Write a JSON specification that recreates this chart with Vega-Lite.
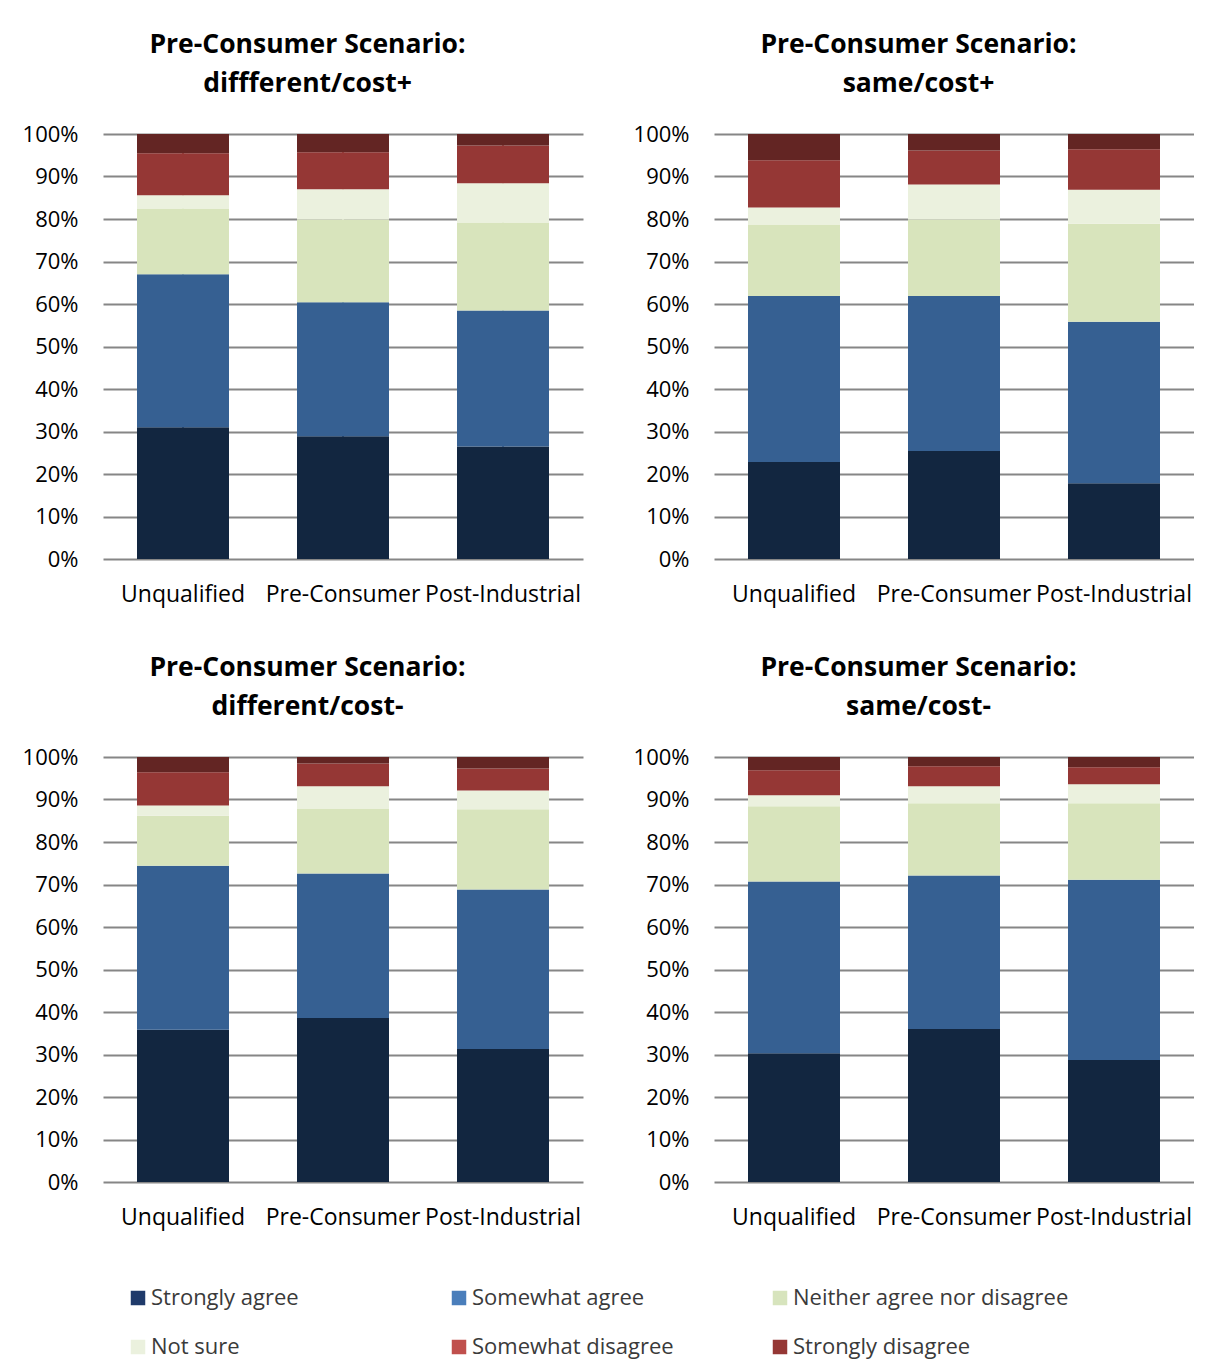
{
  "$schema": "https://vega.github.io/schema/vega-lite/v6.json",
  "background": "white",
  "padding": {"left": 20, "top": 31, "right": 0, "bottom": 0},
  "data": {"values": [
    {"panel": "A", "source": "Unqualified", "response": "Strongly agree", "pct": 31.0},
    {"panel": "A", "source": "Unqualified", "response": "Somewhat agree", "pct": 36.0},
    {"panel": "A", "source": "Unqualified", "response": "Neither agree nor disagree", "pct": 15.5},
    {"panel": "A", "source": "Unqualified", "response": "Not sure", "pct": 3.1},
    {"panel": "A", "source": "Unqualified", "response": "Somewhat disagree", "pct": 9.9},
    {"panel": "A", "source": "Unqualified", "response": "Strongly disagree", "pct": 4.5},
    {"panel": "A", "source": "Pre-Consumer", "response": "Strongly agree", "pct": 28.9},
    {"panel": "A", "source": "Pre-Consumer", "response": "Somewhat agree", "pct": 31.5},
    {"panel": "A", "source": "Pre-Consumer", "response": "Neither agree nor disagree", "pct": 19.5},
    {"panel": "A", "source": "Pre-Consumer", "response": "Not sure", "pct": 7.1},
    {"panel": "A", "source": "Pre-Consumer", "response": "Somewhat disagree", "pct": 8.7},
    {"panel": "A", "source": "Pre-Consumer", "response": "Strongly disagree", "pct": 4.3},
    {"panel": "A", "source": "Post-Industrial", "response": "Strongly agree", "pct": 26.5},
    {"panel": "A", "source": "Post-Industrial", "response": "Somewhat agree", "pct": 32.0},
    {"panel": "A", "source": "Post-Industrial", "response": "Neither agree nor disagree", "pct": 20.7},
    {"panel": "A", "source": "Post-Industrial", "response": "Not sure", "pct": 9.2},
    {"panel": "A", "source": "Post-Industrial", "response": "Somewhat disagree", "pct": 8.9},
    {"panel": "A", "source": "Post-Industrial", "response": "Strongly disagree", "pct": 2.7},
    {"panel": "B", "source": "Unqualified", "response": "Strongly agree", "pct": 22.8},
    {"panel": "B", "source": "Unqualified", "response": "Somewhat agree", "pct": 39.1},
    {"panel": "B", "source": "Unqualified", "response": "Neither agree nor disagree", "pct": 16.8},
    {"panel": "B", "source": "Unqualified", "response": "Not sure", "pct": 4.0},
    {"panel": "B", "source": "Unqualified", "response": "Somewhat disagree", "pct": 11.1},
    {"panel": "B", "source": "Unqualified", "response": "Strongly disagree", "pct": 6.2},
    {"panel": "B", "source": "Pre-Consumer", "response": "Strongly agree", "pct": 25.4},
    {"panel": "B", "source": "Pre-Consumer", "response": "Somewhat agree", "pct": 36.5},
    {"panel": "B", "source": "Pre-Consumer", "response": "Neither agree nor disagree", "pct": 18.0},
    {"panel": "B", "source": "Pre-Consumer", "response": "Not sure", "pct": 8.2},
    {"panel": "B", "source": "Pre-Consumer", "response": "Somewhat disagree", "pct": 8.0},
    {"panel": "B", "source": "Pre-Consumer", "response": "Strongly disagree", "pct": 3.9},
    {"panel": "B", "source": "Post-Industrial", "response": "Strongly agree", "pct": 17.8},
    {"panel": "B", "source": "Post-Industrial", "response": "Somewhat agree", "pct": 38.0},
    {"panel": "B", "source": "Post-Industrial", "response": "Neither agree nor disagree", "pct": 23.1},
    {"panel": "B", "source": "Post-Industrial", "response": "Not sure", "pct": 8.0},
    {"panel": "B", "source": "Post-Industrial", "response": "Somewhat disagree", "pct": 9.5},
    {"panel": "B", "source": "Post-Industrial", "response": "Strongly disagree", "pct": 3.6},
    {"panel": "C", "source": "Unqualified", "response": "Strongly agree", "pct": 35.8},
    {"panel": "C", "source": "Unqualified", "response": "Somewhat agree", "pct": 38.6},
    {"panel": "C", "source": "Unqualified", "response": "Neither agree nor disagree", "pct": 11.8},
    {"panel": "C", "source": "Unqualified", "response": "Not sure", "pct": 2.4},
    {"panel": "C", "source": "Unqualified", "response": "Somewhat disagree", "pct": 7.8},
    {"panel": "C", "source": "Unqualified", "response": "Strongly disagree", "pct": 3.6},
    {"panel": "C", "source": "Pre-Consumer", "response": "Strongly agree", "pct": 38.6},
    {"panel": "C", "source": "Pre-Consumer", "response": "Somewhat agree", "pct": 34.0},
    {"panel": "C", "source": "Pre-Consumer", "response": "Neither agree nor disagree", "pct": 15.3},
    {"panel": "C", "source": "Pre-Consumer", "response": "Not sure", "pct": 5.2},
    {"panel": "C", "source": "Pre-Consumer", "response": "Somewhat disagree", "pct": 5.4},
    {"panel": "C", "source": "Pre-Consumer", "response": "Strongly disagree", "pct": 1.5},
    {"panel": "C", "source": "Post-Industrial", "response": "Strongly agree", "pct": 31.3},
    {"panel": "C", "source": "Post-Industrial", "response": "Somewhat agree", "pct": 37.5},
    {"panel": "C", "source": "Post-Industrial", "response": "Neither agree nor disagree", "pct": 18.9},
    {"panel": "C", "source": "Post-Industrial", "response": "Not sure", "pct": 4.4},
    {"panel": "C", "source": "Post-Industrial", "response": "Somewhat disagree", "pct": 5.2},
    {"panel": "C", "source": "Post-Industrial", "response": "Strongly disagree", "pct": 2.7},
    {"panel": "D", "source": "Unqualified", "response": "Strongly agree", "pct": 30.3},
    {"panel": "D", "source": "Unqualified", "response": "Somewhat agree", "pct": 40.4},
    {"panel": "D", "source": "Unqualified", "response": "Neither agree nor disagree", "pct": 17.7},
    {"panel": "D", "source": "Unqualified", "response": "Not sure", "pct": 2.6},
    {"panel": "D", "source": "Unqualified", "response": "Somewhat disagree", "pct": 5.9},
    {"panel": "D", "source": "Unqualified", "response": "Strongly disagree", "pct": 3.1},
    {"panel": "D", "source": "Pre-Consumer", "response": "Strongly agree", "pct": 36.0},
    {"panel": "D", "source": "Pre-Consumer", "response": "Somewhat agree", "pct": 36.1},
    {"panel": "D", "source": "Pre-Consumer", "response": "Neither agree nor disagree", "pct": 17.0},
    {"panel": "D", "source": "Pre-Consumer", "response": "Not sure", "pct": 4.0},
    {"panel": "D", "source": "Pre-Consumer", "response": "Somewhat disagree", "pct": 4.7},
    {"panel": "D", "source": "Pre-Consumer", "response": "Strongly disagree", "pct": 2.2},
    {"panel": "D", "source": "Post-Industrial", "response": "Strongly agree", "pct": 28.7},
    {"panel": "D", "source": "Post-Industrial", "response": "Somewhat agree", "pct": 42.4},
    {"panel": "D", "source": "Post-Industrial", "response": "Neither agree nor disagree", "pct": 18.0},
    {"panel": "D", "source": "Post-Industrial", "response": "Not sure", "pct": 4.5},
    {"panel": "D", "source": "Post-Industrial", "response": "Somewhat disagree", "pct": 4.0},
    {"panel": "D", "source": "Post-Industrial", "response": "Strongly disagree", "pct": 2.4}
  ]},
  "transform": [
    {"lookup": "response", "from": {"data": {"values": [
      {"response": "Strongly agree", "rank": 1, "item": "Strongly agree"},
      {"response": "Somewhat agree", "rank": 2, "item": "Somewhat agree"},
      {"response": "Neither agree nor disagree", "rank": 3, "item": "Neither agree nor disagree"},
      {"response": "Not sure", "rank": 4, "item": "Not sure"},
      {"response": "Somewhat disagree", "rank": 5, "item": "Somewhat disagree"},
      {"response": "Strongly disagree", "rank": 6, "item": "Strongly disagree"}
    ]}, "key": "response", "fields": ["rank", "item"]}}
  ],
  "spacing": 48,
  "vconcat": [
    {
      "spacing": 48,
      "hconcat": [
        {
          "title": {"text": ["Pre-Consumer Scenario:", "diffferent/cost+"]},
          "transform": [{"filter": {"field": "panel", "equal": "A"}}],
          "width": 480, "height": 425,
          "encoding": {
            "x": {"field": "source", "type": "nominal", "sort": ["Unqualified", "Pre-Consumer", "Post-Industrial"], "scale": {"paddingInner": 0.425, "paddingOuter": 0.2125}},
            "y": {"field": "pct", "type": "quantitative", "stack": "normalize"},
            "order": {"field": "rank", "type": "quantitative"}
          },
          "layer": [
            {
              "mark": {"type": "bar", "width": 2},
              "encoding": {
                "fill": {"field": "item", "type": "nominal", "sort": ["Strongly agree", "Somewhat agree", "Neither agree nor disagree", "Not sure", "Somewhat disagree", "Strongly disagree"], "scale": {"domain": ["Strongly agree", "Somewhat agree", "Neither agree nor disagree", "Not sure", "Somewhat disagree", "Strongly disagree"], "range": ["#1F3A6A", "#4A7EBB", "#D7E4BD", "#EBF1DE", "#C0504D", "#953735"]}, "legend": {"title": null}}
              }
            },
            {
              "mark": {"type": "bar"},
              "encoding": {
                "color": {"field": "response", "type": "nominal", "legend": null, "scale": {"domain": ["Strongly agree", "Somewhat agree", "Neither agree nor disagree", "Not sure", "Somewhat disagree", "Strongly disagree"], "range": ["#122640", "#366092", "#D8E4BC", "#EBF1DE", "#953735", "#632523"]}}
              }
            }
          ]
        },
        {
          "title": {"text": ["Pre-Consumer Scenario:", "same/cost+"]},
          "transform": [{"filter": {"field": "panel", "equal": "B"}}],
          "width": 480, "height": 425,
          "mark": {"type": "bar"},
          "encoding": {
            "x": {"field": "source", "type": "nominal", "sort": ["Unqualified", "Pre-Consumer", "Post-Industrial"], "scale": {"paddingInner": 0.425, "paddingOuter": 0.2125}},
            "y": {"field": "pct", "type": "quantitative", "stack": "normalize"},
            "order": {"field": "rank", "type": "quantitative"},
            "color": {"field": "response", "type": "nominal", "legend": null, "scale": {"domain": ["Strongly agree", "Somewhat agree", "Neither agree nor disagree", "Not sure", "Somewhat disagree", "Strongly disagree"], "range": ["#122640", "#366092", "#D8E4BC", "#EBF1DE", "#953735", "#632523"]}}
          }
        }
      ]
    },
    {
      "spacing": 48,
      "hconcat": [
        {
          "title": {"text": ["Pre-Consumer Scenario:", "different/cost-"]},
          "transform": [{"filter": {"field": "panel", "equal": "C"}}],
          "width": 480, "height": 425,
          "mark": {"type": "bar"},
          "encoding": {
            "x": {"field": "source", "type": "nominal", "sort": ["Unqualified", "Pre-Consumer", "Post-Industrial"], "scale": {"paddingInner": 0.425, "paddingOuter": 0.2125}},
            "y": {"field": "pct", "type": "quantitative", "stack": "normalize"},
            "order": {"field": "rank", "type": "quantitative"},
            "color": {"field": "response", "type": "nominal", "legend": null, "scale": {"domain": ["Strongly agree", "Somewhat agree", "Neither agree nor disagree", "Not sure", "Somewhat disagree", "Strongly disagree"], "range": ["#122640", "#366092", "#D8E4BC", "#EBF1DE", "#953735", "#632523"]}}
          }
        },
        {
          "title": {"text": ["Pre-Consumer Scenario:", "same/cost-"]},
          "transform": [{"filter": {"field": "panel", "equal": "D"}}],
          "width": 480, "height": 425,
          "mark": {"type": "bar"},
          "encoding": {
            "x": {"field": "source", "type": "nominal", "sort": ["Unqualified", "Pre-Consumer", "Post-Industrial"], "scale": {"paddingInner": 0.425, "paddingOuter": 0.2125}},
            "y": {"field": "pct", "type": "quantitative", "stack": "normalize"},
            "order": {"field": "rank", "type": "quantitative"},
            "color": {"field": "response", "type": "nominal", "legend": null, "scale": {"domain": ["Strongly agree", "Somewhat agree", "Neither agree nor disagree", "Not sure", "Somewhat disagree", "Strongly disagree"], "range": ["#122640", "#366092", "#D8E4BC", "#EBF1DE", "#953735", "#632523"]}}
          }
        }
      ]
    }
  ],
  "config": {
    "view": {"stroke": null},
    "title": {"font": "Open Sans", "fontSize": 26.5, "fontWeight": "bold", "color": "#000000", "anchor": "middle", "frame": "bounds", "offset": 26, "lineHeight": 39, "dx": 6},
    "axis": {"labelFont": "Open Sans", "labelFontSize": 22, "labelColor": "#000000", "title": null, "ticks": false, "domain": false},
    "axisX": {"grid": false, "labelAngle": 0, "labelPadding": 24, "labelFontSize": 23, "labelOverlap": false, "labelLimit": 300},
    "axisY": {"grid": true, "gridColor": "#868686", "gridWidth": 2, "values": [0, 0.1, 0.2, 0.3, 0.4, 0.5, 0.6, 0.7, 0.8, 0.9, 1], "format": ".0%", "labelPadding": 25, "minExtent": 83, "maxExtent": 83},
    "legend": {"orient": "bottom", "title": null, "columns": 3, "gridAlign": "all", "columnPadding": 21, "rowPadding": 27, "padding": 24, "symbolType": "square", "symbolSize": 210, "symbolStrokeWidth": 0, "labelOffset": 2, "labelFont": "Open Sans", "labelFontSize": 22, "labelColor": "#3A3A3A", "labelLimit": 400, "offset": 34}
  }
}
